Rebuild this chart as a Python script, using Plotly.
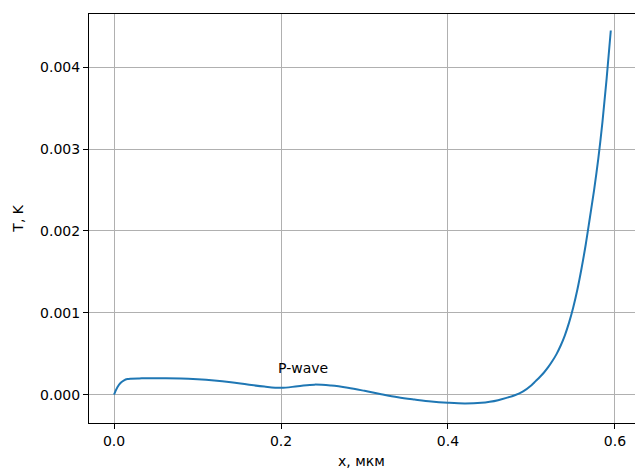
import plotly.graph_objects as go

# data (x in мкм, T in K)
x_vals = [0, 0.004, 0.008, 0.012, 0.016, 0.02, 0.03, 0.04, 0.06, 0.08, 0.10, 0.12, 0.14,
          0.16, 0.18, 0.20, 0.22, 0.24, 0.26, 0.28, 0.30, 0.32, 0.34, 0.36, 0.38, 0.40,
          0.42, 0.44, 0.45, 0.46, 0.47, 0.48, 0.49, 0.50, 0.505, 0.51, 0.515, 0.52, 0.525,
          0.53, 0.535, 0.54, 0.545, 0.55, 0.555, 0.56, 0.565, 0.57, 0.575, 0.58, 0.585,
          0.59, 0.595]
t_milli = [0, 0.09, 0.145, 0.175, 0.19, 0.195, 0.198, 0.199, 0.200, 0.198, 0.188, 0.172, 0.15,
           0.123, 0.098, 0.083, 0.102, 0.122, 0.110, 0.083, 0.046, 0.005, -0.032, -0.060, -0.085,
           -0.100, -0.108, -0.101, -0.088, -0.068, -0.040, -0.008, 0.040, 0.115, 0.165, 0.215,
           0.270, 0.335, 0.410, 0.495, 0.600, 0.725, 0.880, 1.065, 1.285, 1.545, 1.835, 2.165,
           2.500, 2.880, 3.330, 3.860, 4.450]
t_vals = [v * 1e-3 for v in t_milli]

x_ticks = [0.0, 0.2, 0.4, 0.6]
y_ticks = [0.0, 0.001, 0.002, 0.003, 0.004]
label_text = "P-wave"
x_title = "x, мкм"
y_title = "T, K"

font = dict(family="DejaVu Sans", size=14, color="#000000")

fig = go.Figure()
fig.add_trace(go.Scatter(x=x_vals, y=t_vals, mode="lines",
                         line=dict(color="#1f77b4", width=2, shape="spline", smoothing=1.0),
                         showlegend=False, hoverinfo="skip"))

fig.add_annotation(x=0.1945, y=0.000328, text=label_text, showarrow=False,
                   xanchor="left", yanchor="middle", font=font, xref="x", yref="y")
fig.add_annotation(x=0.4997, y=-0.094, text=x_title, showarrow=False, xref="paper", yref="paper",
                   xanchor="center", yanchor="middle", font=font)
fig.add_annotation(x=-0.1316, y=0.5, text=y_title, showarrow=False, xref="paper", yref="paper",
                   xanchor="center", yanchor="middle", textangle=-90, font=font)

fig.update_layout(
    width=635, height=470,
    margin=dict(l=89, r=0, t=14, b=47),
    plot_bgcolor="white", paper_bgcolor="white",
    font=font,
    xaxis=dict(range=[-0.0300, 0.6240], tickvals=x_ticks, tickformat=".1f",
               showgrid=True, gridcolor="#b0b0b0", gridwidth=1, zeroline=False,
               showline=True, linecolor="black", linewidth=1, mirror=True,
               ticks="outside", ticklen=5, tickcolor="black", tickfont=font),
    yaxis=dict(range=[-0.000347, 0.004652], tickvals=y_ticks, tickformat=".3f",
               showgrid=True, gridcolor="#b0b0b0", gridwidth=1, zeroline=False,
               showline=True, linecolor="black", linewidth=1, mirror=False,
               ticks="outside", ticklen=5, tickcolor="black", tickfont=font),
)

fig.write_html("out.html")
